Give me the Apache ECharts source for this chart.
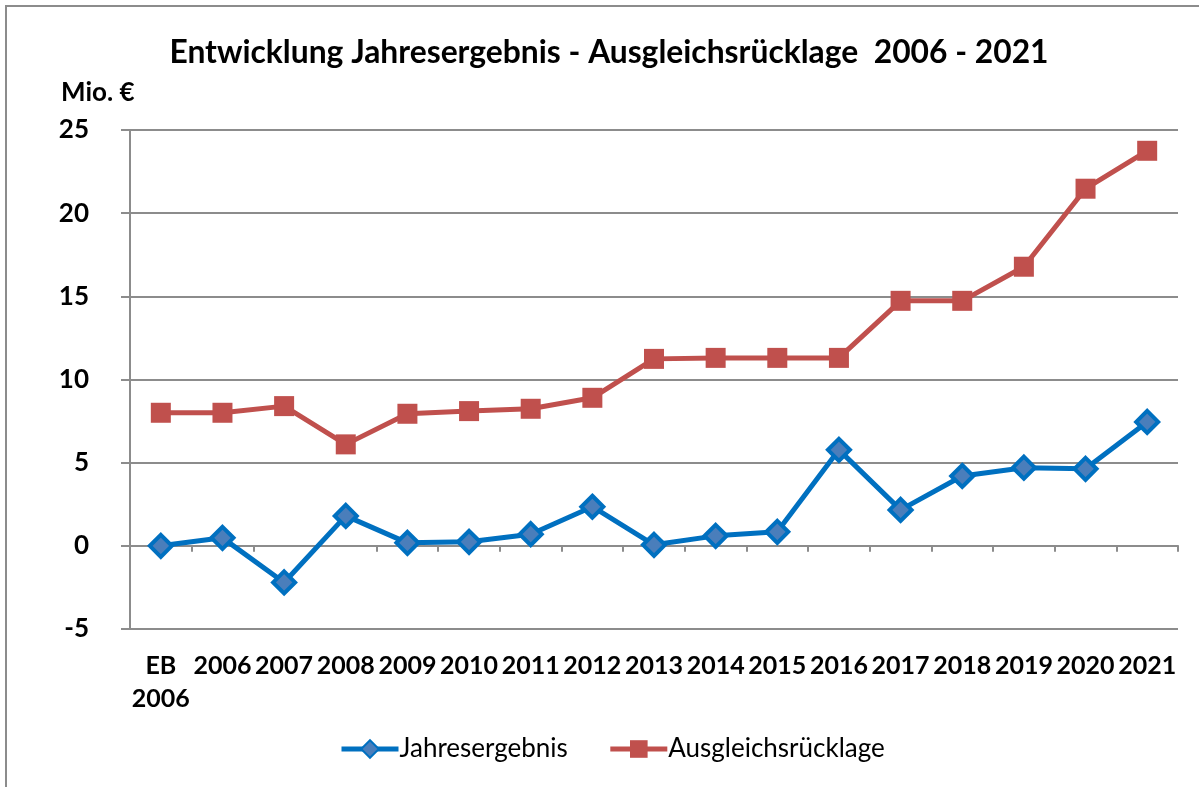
<!DOCTYPE html>
<html><head><meta charset="utf-8">
<script src="https://cdn.jsdelivr.net/npm/echarts@6/dist/echarts.min.js"></script>
<style>html,body{margin:0;padding:0;background:#fff}#c{width:1199px;height:787px}</style>
</head><body><div id="c"></div>
<script>
const categories = ['EB\n2006','2006','2007','2008','2009','2010','2011','2012','2013','2014','2015','2016','2017','2018','2019','2020','2021'];
const jahresergebnis = [0, 0.48, -2.2, 1.8, 0.18, 0.24, 0.7, 2.35, 0.06, 0.6, 0.84, 5.77, 2.16, 4.2, 4.7, 4.63, 7.45];
const ausgleichsruecklage = [8.0, 8.0, 8.4, 6.1, 7.94, 8.1, 8.24, 8.9, 11.24, 11.3, 11.3, 11.3, 14.73, 14.73, 16.78, 21.47, 23.75];
const yTicks = [-5, 0, 5, 10, 15, 20, 25];

const FONT = 'Lato, "Open Sans", sans-serif';
const chart = echarts.init(document.getElementById('c'));
chart.setOption({
  animation: false,
  backgroundColor: '#fff',
  title: {
    text: 'Entwicklung Jahresergebnis - Ausgleichsrücklage  2006 - 2021',
    left: 604, top: 32, textAlign: 'center',
    textStyle: {fontFamily: FONT, fontWeight: 'bold', fontSize: 31.8, color: '#000'}
  },
  graphic: [
    {type: 'rect', shape: {x: 6, y: 6, width: 1210, height: 800}, style: {fill: 'none', stroke: '#8c8c8c', lineWidth: 2}, silent: true},
    {type: 'text', left: 61, top: 80, style: {text: 'Mio. €', fontFamily: FONT, fontWeight: 'bold', fontSize: 26, fill: '#000'}}
  ],
  legend: {
    bottom: 20, left: 334, itemGap: 40, itemWidth: 57, itemHeight: 22,
    textStyle: {fontFamily: FONT, fontSize: 26, color: '#000', padding: [0, 0, 0, -4]},
    lineStyle: {width: 5},
    data: ['Jahresergebnis', 'Ausgleichsrücklage']
  },
  grid: {left: 130, right: 21, top: 130, bottom: 158},
  xAxis: [
    {
      type: 'category', data: categories, boundaryGap: true,
      axisLine: {onZero: true, lineStyle: {color: '#8c8c8c', width: 2}},
      axisTick: {show: true, length: 6, lineStyle: {color: '#8c8c8c', width: 2}},
      axisLabel: {show: false}
    },
    {
      type: 'category', data: categories, boundaryGap: true, position: 'bottom',
      axisLine: {show: false}, axisTick: {show: false},
      axisLabel: {interval: 0, margin: 20, fontFamily: FONT, fontWeight: 'bold', fontSize: 25, color: '#000', lineHeight: 33}
    }
  ],
  yAxis: {
    type: 'value', min: -5, max: 25, interval: 5,
    axisLine: {show: true, lineStyle: {color: '#8c8c8c', width: 2}},
    axisTick: {show: true, length: 9, lineStyle: {color: '#8c8c8c', width: 2}},
    splitLine: {lineStyle: {color: '#8c8c8c', width: 2}},
    axisLabel: {margin: 41, fontFamily: FONT, fontWeight: 'bold', fontSize: 26, color: '#000',
      formatter: v => yTicks.includes(v) ? String(v) : ''}
  },
  series: [
    {
      name: 'Jahresergebnis', type: 'line', data: jahresergebnis, xAxisIndex: 0,
      symbol: 'diamond', symbolSize: 22,
      lineStyle: {color: '#0070C0', width: 5},
      itemStyle: {color: '#4A7EBB', borderColor: '#0070C0', borderWidth: 4},
      z: 3
    },
    {
      name: 'Ausgleichsrücklage', type: 'line', data: ausgleichsruecklage, xAxisIndex: 0,
      symbol: 'rect', symbolSize: 20,
      lineStyle: {color: '#C0504D', width: 5},
      itemStyle: {color: '#C0504D', borderColor: '#C0504D', borderWidth: 0},
      z: 2
    }
  ]
});
</script></body></html>
